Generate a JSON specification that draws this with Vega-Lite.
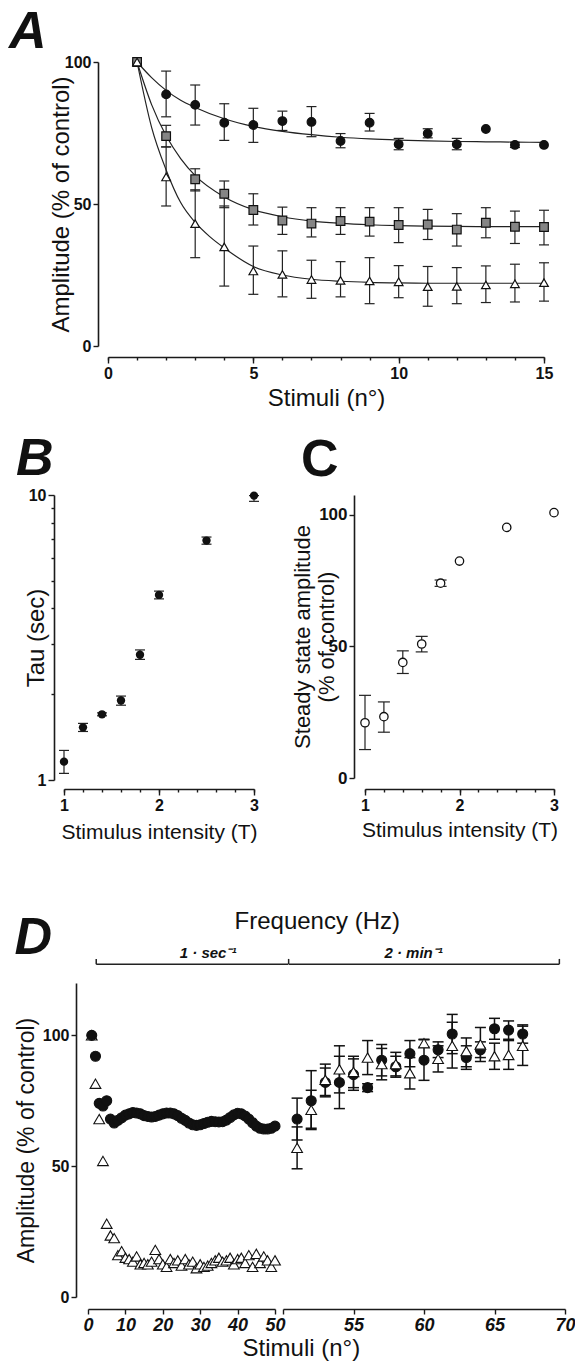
{
 "$schema": "https://vega.github.io/schema/vega-lite/v6.json",
 "padding": {"left": 8, "top": 6, "right": 0, "bottom": 0},
 "background": "white",
 "config": {
  "font": "Liberation Sans",
  "view": {"stroke": null},
  "axis": {"grid": false, "domainColor": "#1a1a1a", "domainWidth": 1.6, "tickColor": "#1a1a1a", "tickWidth": 1.4, "tickSize": 5, "labelPadding": 2, "labelFont": "Liberation Sans", "labelFontWeight": "bold", "labelColor": "#111", "titleFont": "Liberation Sans", "titleFontWeight": "normal", "titleColor": "#111", "labelOverlap": false, "labelFlush": false}
 },
 "datasets": {
  "A": [
   {"s":"circle","x":1,"y":100,"lo":null,"hi":null},
   {"s":"circle","x":2,"y":88.6,"lo":80.7,"hi":96.8},
   {"s":"circle","x":3,"y":84.9,"lo":77.8,"hi":91.9},
   {"s":"circle","x":4,"y":78.6,"lo":72.4,"hi":85.3},
   {"s":"circle","x":5,"y":77.8,"lo":71.7,"hi":83.7},
   {"s":"circle","x":6,"y":79.2,"lo":75.9,"hi":82.7},
   {"s":"circle","x":7,"y":78.9,"lo":73.7,"hi":84.3},
   {"s":"circle","x":8,"y":72.2,"lo":69.8,"hi":74.8},
   {"s":"circle","x":9,"y":78.6,"lo":75.7,"hi":81.9},
   {"s":"circle","x":10,"y":71.0,"lo":69.1,"hi":73.1},
   {"s":"circle","x":11,"y":74.8,"lo":73.3,"hi":76.5},
   {"s":"circle","x":12,"y":71.0,"lo":69.1,"hi":73.1},
   {"s":"circle","x":13,"y":76.4,"lo":null,"hi":null},
   {"s":"circle","x":14,"y":70.8,"lo":69.9,"hi":71.7},
   {"s":"circle","x":15,"y":70.8,"lo":null,"hi":null},
   {"s":"square","x":1,"y":100,"lo":null,"hi":null},
   {"s":"square","x":2,"y":73.9,"lo":70.1,"hi":77.7},
   {"s":"square","x":3,"y":58.7,"lo":54.6,"hi":62.4},
   {"s":"square","x":4,"y":53.6,"lo":48.7,"hi":58.1},
   {"s":"square","x":5,"y":47.9,"lo":42.6,"hi":53.6},
   {"s":"square","x":6,"y":44.2,"lo":39.3,"hi":48.9},
   {"s":"square","x":7,"y":43.1,"lo":38.4,"hi":48.7},
   {"s":"square","x":8,"y":44.0,"lo":39.3,"hi":48.7},
   {"s":"square","x":9,"y":43.8,"lo":38.7,"hi":48.7},
   {"s":"square","x":10,"y":42.6,"lo":36.4,"hi":48.7},
   {"s":"square","x":11,"y":42.8,"lo":37.5,"hi":48.1},
   {"s":"square","x":12,"y":41.0,"lo":35.2,"hi":46.6},
   {"s":"square","x":13,"y":43.4,"lo":38.1,"hi":48.7},
   {"s":"square","x":14,"y":42.0,"lo":36.1,"hi":47.5},
   {"s":"square","x":15,"y":41.9,"lo":35.6,"hi":47.8},
   {"s":"triangle","x":1,"y":100,"lo":null,"hi":null},
   {"s":"triangle","x":2,"y":59.5,"lo":49.3,"hi":70.1},
   {"s":"triangle","x":3,"y":43.1,"lo":31.1,"hi":55.0},
   {"s":"triangle","x":4,"y":34.9,"lo":21.1,"hi":49.3},
   {"s":"triangle","x":5,"y":26.4,"lo":18.2,"hi":35.2},
   {"s":"triangle","x":6,"y":25.2,"lo":17.3,"hi":33.5},
   {"s":"triangle","x":7,"y":23.4,"lo":16.8,"hi":30.2},
   {"s":"triangle","x":8,"y":23.1,"lo":17.3,"hi":29.7},
   {"s":"triangle","x":9,"y":22.9,"lo":14.9,"hi":31.1},
   {"s":"triangle","x":10,"y":22.6,"lo":17.0,"hi":28.3},
   {"s":"triangle","x":11,"y":20.9,"lo":14.0,"hi":28.0},
   {"s":"triangle","x":12,"y":21.0,"lo":14.9,"hi":27.6},
   {"s":"triangle","x":13,"y":21.5,"lo":15.3,"hi":28.2},
   {"s":"triangle","x":14,"y":21.9,"lo":15.5,"hi":28.8},
   {"s":"triangle","x":15,"y":22.3,"lo":15.8,"hi":29.3}
  ],
  "Afit": [
   {"s":"circle","x":1,"y":100},{"s":"circle","x":1.5,"y":94.5},{"s":"circle","x":2,"y":90},{"s":"circle","x":2.5,"y":86.5},{"s":"circle","x":3,"y":84},{"s":"circle","x":4,"y":80},{"s":"circle","x":5,"y":77.3},{"s":"circle","x":6,"y":75.6},{"s":"circle","x":7,"y":74.4},{"s":"circle","x":8,"y":73.5},{"s":"circle","x":9,"y":72.9},{"s":"circle","x":10,"y":72.5},{"s":"circle","x":11,"y":72.2},{"s":"circle","x":12,"y":72},{"s":"circle","x":13,"y":71.9},{"s":"circle","x":14,"y":71.8},{"s":"circle","x":15,"y":71.7},
   {"s":"square","x":1,"y":100},{"s":"square","x":1.5,"y":85},{"s":"square","x":2,"y":74},{"s":"square","x":2.5,"y":66},{"s":"square","x":3,"y":60},{"s":"square","x":4,"y":52.5},{"s":"square","x":5,"y":48},{"s":"square","x":6,"y":45.5},{"s":"square","x":7,"y":44},{"s":"square","x":8,"y":43.2},{"s":"square","x":9,"y":42.7},{"s":"square","x":10,"y":42.4},{"s":"square","x":11,"y":42.2},{"s":"square","x":12,"y":42.1},{"s":"square","x":13,"y":42.05},{"s":"square","x":14,"y":42},{"s":"square","x":15,"y":42},
   {"s":"triangle","x":1,"y":100},{"s":"triangle","x":1.5,"y":77},{"s":"triangle","x":2,"y":62},{"s":"triangle","x":2.5,"y":50.5},{"s":"triangle","x":3,"y":43.5},{"s":"triangle","x":3.5,"y":38.5},{"s":"triangle","x":4,"y":34.5},{"s":"triangle","x":5,"y":28},{"s":"triangle","x":6,"y":25},{"s":"triangle","x":7,"y":23.5},{"s":"triangle","x":8,"y":22.8},{"s":"triangle","x":9,"y":22.4},{"s":"triangle","x":10,"y":22.2},{"s":"triangle","x":11,"y":22.1},{"s":"triangle","x":12,"y":22.1},{"s":"triangle","x":13,"y":22.1},{"s":"triangle","x":14,"y":22.1},{"s":"triangle","x":15,"y":22.1}
  ],
  "B": [
   {"x":1,"y":1.16,"lo":1.055,"hi":1.27},
   {"x":1.2,"y":1.53,"lo":1.48,"hi":1.58},
   {"x":1.4,"y":1.70,"lo":1.68,"hi":1.72},
   {"x":1.6,"y":1.90,"lo":1.83,"hi":1.97},
   {"x":1.8,"y":2.75,"lo":2.65,"hi":2.86},
   {"x":2.0,"y":4.46,"lo":4.32,"hi":4.60},
   {"x":2.5,"y":6.92,"lo":6.72,"hi":7.12},
   {"x":3.0,"y":9.95,"lo":9.5,"hi":9.95}
  ],
  "C": [
   {"x":1,"y":21.0,"lo":10.8,"hi":31.4},
   {"x":1.2,"y":23.3,"lo":17.4,"hi":28.9},
   {"x":1.4,"y":43.9,"lo":39.7,"hi":48.3},
   {"x":1.6,"y":50.9,"lo":47.9,"hi":53.8},
   {"x":1.8,"y":74.0,"lo":72.8,"hi":75.2},
   {"x":2.0,"y":82.4,"lo":null,"hi":null},
   {"x":2.5,"y":95.2,"lo":null,"hi":null},
   {"x":3.0,"y":100.8,"lo":null,"hi":null}
  ],
  "Dl": [
   {"s":"triangle","x":1,"y":100},{"s":"triangle","x":2,"y":81.5},{"s":"triangle","x":3,"y":68},{"s":"triangle","x":4,"y":52},{"s":"triangle","x":5,"y":28},{"s":"triangle","x":6,"y":23.5},{"s":"triangle","x":7,"y":22.5},{"s":"triangle","x":8,"y":16},{"s":"triangle","x":9,"y":17.5},{"s":"triangle","x":10,"y":15},
   {"s":"triangle","x":11,"y":14.5},{"s":"triangle","x":12,"y":13.5},{"s":"triangle","x":13,"y":15.5},{"s":"triangle","x":14,"y":12.5},{"s":"triangle","x":15,"y":13},{"s":"triangle","x":16,"y":12.5},{"s":"triangle","x":17,"y":13.5},{"s":"triangle","x":18,"y":18},{"s":"triangle","x":19,"y":14.5},{"s":"triangle","x":20,"y":12.5},
   {"s":"triangle","x":21,"y":11.5},{"s":"triangle","x":22,"y":14.5},{"s":"triangle","x":23,"y":13},{"s":"triangle","x":24,"y":14},{"s":"triangle","x":25,"y":12},{"s":"triangle","x":26,"y":14.5},{"s":"triangle","x":27,"y":12.5},{"s":"triangle","x":28,"y":13.5},{"s":"triangle","x":29,"y":11},{"s":"triangle","x":30,"y":12.5},
   {"s":"triangle","x":31,"y":11.5},{"s":"triangle","x":32,"y":12},{"s":"triangle","x":33,"y":13},{"s":"triangle","x":34,"y":14},{"s":"triangle","x":35,"y":15},{"s":"triangle","x":36,"y":13.5},{"s":"triangle","x":37,"y":14},{"s":"triangle","x":38,"y":15},{"s":"triangle","x":39,"y":12.5},{"s":"triangle","x":40,"y":14.5},
   {"s":"triangle","x":41,"y":15},{"s":"triangle","x":42,"y":13},{"s":"triangle","x":43,"y":16},{"s":"triangle","x":44,"y":11.5},{"s":"triangle","x":45,"y":16.5},{"s":"triangle","x":46,"y":13},{"s":"triangle","x":47,"y":15.5},{"s":"triangle","x":48,"y":14},{"s":"triangle","x":49,"y":11.5},{"s":"triangle","x":50,"y":14},
   {"s":"circle","x":1,"y":100},{"s":"circle","x":2,"y":92},{"s":"circle","x":3,"y":74},{"s":"circle","x":4,"y":73},{"s":"circle","x":5,"y":75},{"s":"circle","x":6,"y":68},{"s":"circle","x":7,"y":66.5},{"s":"circle","x":8,"y":67.5},{"s":"circle","x":9,"y":68.5},{"s":"circle","x":10,"y":69.5},
   {"s":"circle","x":11,"y":70},{"s":"circle","x":12,"y":70.5},{"s":"circle","x":13,"y":70.3},{"s":"circle","x":14,"y":70},{"s":"circle","x":15,"y":69.3},{"s":"circle","x":16,"y":69},{"s":"circle","x":17,"y":68.8},{"s":"circle","x":18,"y":69},{"s":"circle","x":19,"y":69.5},{"s":"circle","x":20,"y":70},
   {"s":"circle","x":21,"y":70.3},{"s":"circle","x":22,"y":70.3},{"s":"circle","x":23,"y":70},{"s":"circle","x":24,"y":69.3},{"s":"circle","x":25,"y":68.3},{"s":"circle","x":26,"y":67.5},{"s":"circle","x":27,"y":66.5},{"s":"circle","x":28,"y":65.8},{"s":"circle","x":29,"y":65.6},{"s":"circle","x":30,"y":65.8},
   {"s":"circle","x":31,"y":66.3},{"s":"circle","x":32,"y":66.8},{"s":"circle","x":33,"y":67.1},{"s":"circle","x":34,"y":67},{"s":"circle","x":35,"y":66.9},{"s":"circle","x":36,"y":67},{"s":"circle","x":37,"y":67.6},{"s":"circle","x":38,"y":68.6},{"s":"circle","x":39,"y":69.6},{"s":"circle","x":40,"y":70.2},
   {"s":"circle","x":41,"y":70},{"s":"circle","x":42,"y":69.2},{"s":"circle","x":43,"y":68},{"s":"circle","x":44,"y":66.6},{"s":"circle","x":45,"y":65.3},{"s":"circle","x":46,"y":64.5},{"s":"circle","x":47,"y":64.2},{"s":"circle","x":48,"y":64.2},{"s":"circle","x":49,"y":64.5},{"s":"circle","x":50,"y":65.3}
  ],
  "Dr": [
   {"s":"circle","x":51,"y":68,"lo":60,"hi":76},
   {"s":"circle","x":52,"y":75,"lo":64,"hi":86.5},
   {"s":"circle","x":53,"y":82,"lo":76.5,"hi":87.5},
   {"s":"circle","x":54,"y":82,"lo":72,"hi":92},
   {"s":"circle","x":55,"y":85,"lo":79,"hi":91},
   {"s":"circle","x":56,"y":80,"lo":78.5,"hi":81.5},
   {"s":"circle","x":57,"y":90.5,"lo":84.5,"hi":96.5},
   {"s":"circle","x":58,"y":88,"lo":84,"hi":92},
   {"s":"circle","x":59,"y":93,"lo":88,"hi":98},
   {"s":"circle","x":60,"y":90.5,"lo":82.8,"hi":98.3},
   {"s":"circle","x":61,"y":94.5,"lo":91.5,"hi":97.5},
   {"s":"circle","x":62,"y":100.5,"lo":93,"hi":108},
   {"s":"circle","x":63,"y":91.5,"lo":87,"hi":96},
   {"s":"circle","x":64,"y":94.5,"lo":91.5,"hi":97.5},
   {"s":"circle","x":65,"y":102.5,"lo":98.5,"hi":106.5},
   {"s":"circle","x":66,"y":102,"lo":98.5,"hi":105.5},
   {"s":"circle","x":67,"y":100.5,"lo":97,"hi":104},
   {"s":"triangle","x":51,"y":57,"lo":49,"hi":65},
   {"s":"triangle","x":52,"y":71.5,"lo":64.5,"hi":79},
   {"s":"triangle","x":53,"y":83,"lo":77,"hi":89},
   {"s":"triangle","x":54,"y":87,"lo":78,"hi":96},
   {"s":"triangle","x":55,"y":86,"lo":80,"hi":92},
   {"s":"triangle","x":56,"y":91.5,"lo":85,"hi":98},
   {"s":"triangle","x":57,"y":89,"lo":83,"hi":95},
   {"s":"triangle","x":58,"y":89,"lo":84.5,"hi":93.5},
   {"s":"triangle","x":59,"y":85.5,"lo":79.5,"hi":91.5},
   {"s":"triangle","x":60,"y":97,"lo":95.5,"hi":98.5},
   {"s":"triangle","x":61,"y":91,"lo":86,"hi":96},
   {"s":"triangle","x":62,"y":96,"lo":87.5,"hi":105},
   {"s":"triangle","x":63,"y":94,"lo":88,"hi":99},
   {"s":"triangle","x":64,"y":96.5,"lo":90,"hi":103},
   {"s":"triangle","x":65,"y":92,"lo":87,"hi":97},
   {"s":"triangle","x":66,"y":92.5,"lo":87,"hi":98},
   {"s":"triangle","x":67,"y":96,"lo":88.5,"hi":103.5}
  ]
 },
 "concat": [
  {
   "concat": [
    {
     "hconcat": [
      {"width": 44, "height": 1, "data": {"values": []}, "mark": "point"},
      {
       "width": 436, "height": 284,
       "resolve": {"axis": {"x": "independent"}},
       "layer": [
        {"data": {"name": "Afit"},
         "mark": {"type": "line", "color": "#222", "strokeWidth": 1.2, "interpolate": "monotone"},
         "encoding": {
          "x": {"field": "x", "type": "quantitative", "scale": {"domain": [0, 15], "nice": false, "zero": false},
                "axis": {"orient": "bottom", "values": [0, 5, 10, 15], "format": "d", "tickSize": 6, "offset": 11, "title": "Stimuli (n°)", "titleFontSize": 24, "labelFontSize": 16, "titlePadding": 5}},
          "y": {"field": "y", "type": "quantitative", "scale": {"domain": [0, 100], "nice": false},
                "axis": {"values": [0, 50, 100], "offset": 10, "title": "Amplitude (% of control)", "titleFontSize": 24, "labelFontSize": 16, "titlePadding": -9}},
          "detail": {"field": "s"}
         }},
        {"data": {"name": "A"}, "transform": [{"filter": "datum.lo != null"}],
         "mark": {"type": "rule", "color": "#222", "strokeWidth": 1.2},
         "encoding": {
          "x": {"field": "x", "type": "quantitative", "axis": {"orient": "bottom", "values": [0,1,2,3,4,5,6,7,8,9,10,11,12,13,14,15], "labels": false, "domain": false, "tickSize": 3, "offset": 11, "title": null}},
          "y": {"field": "lo", "type": "quantitative"}, "y2": {"field": "hi"}}},
        {"data": {"name": "A"}, "transform": [{"filter": "datum.lo != null"}],
         "mark": {"type": "tick", "orient": "horizontal", "size": 10, "thickness": 1.2, "color": "#222", "opacity": 1},
         "encoding": {"x": {"field": "x", "type": "quantitative", "axis": null}, "y": {"field": "lo", "type": "quantitative"}}},
        {"data": {"name": "A"}, "transform": [{"filter": "datum.lo != null"}],
         "mark": {"type": "tick", "orient": "horizontal", "size": 10, "thickness": 1.2, "color": "#222", "opacity": 1},
         "encoding": {"x": {"field": "x", "type": "quantitative", "axis": null}, "y": {"field": "hi", "type": "quantitative"}}},
        {"data": {"name": "A"},
         "mark": {"type": "point", "size": 75, "strokeWidth": 1.2, "stroke": "#111", "opacity": 1, "fillOpacity": 1},
         "encoding": {
          "x": {"field": "x", "type": "quantitative", "axis": null},
          "y": {"field": "y", "type": "quantitative"},
          "shape": {"field": "s", "type": "nominal", "scale": {"domain": ["circle", "square", "triangle"], "range": ["circle", "square", "triangle-up"]}, "legend": null},
          "fill": {"field": "s", "type": "nominal", "scale": {"domain": ["circle", "square", "triangle"], "range": ["#111111", "#858585", "#ffffff"]}, "legend": null}
         }},
        {"data": {"values": [{}]},
         "mark": {"type": "text", "text": "A", "fontSize": 52, "fontWeight": "bold", "fontStyle": "italic", "align": "left", "baseline": "alphabetic", "color": "#111"},
         "encoding": {"x": {"datum": -3.41, "axis": null}, "y": {"datum": 104.9}}}
       ]
      }
     ],
     "spacing": 0,
     "bounds": "flush"
    },
    {
     "hconcat": [
      {
       "width": 190, "height": 285,
       "data": {"name": "B"},
       "resolve": {"axis": {"x": "independent"}},
       "layer": [
        {"mark": {"type": "rule", "color": "#222", "strokeWidth": 1.2},
         "encoding": {
          "x": {"field": "x", "type": "quantitative", "axis": {"orient": "bottom", "values": [1,1.2,1.4,1.6,1.8,2,2.2,2.4,2.6,2.8,3], "labels": false, "domain": false, "tickSize": 3, "offset": 9, "title": null}},
          "y": {"field": "lo", "type": "quantitative"}, "y2": {"field": "hi"}}},
        {"mark": {"type": "tick", "orient": "horizontal", "size": 10, "thickness": 1.2, "color": "#222", "opacity": 1},
         "encoding": {"x": {"field": "x", "type": "quantitative", "axis": {"orient": "bottom", "values": [2], "format": "d", "domain": false, "tickSize": 6, "offset": 9, "title": null, "labelFontSize": 16}}, "y": {"field": "lo", "type": "quantitative"}}},
        {"mark": {"type": "tick", "orient": "horizontal", "size": 10, "thickness": 1.2, "color": "#222", "opacity": 1},
         "encoding": {"x": {"field": "x", "type": "quantitative", "axis": null}, "y": {"field": "hi", "type": "quantitative"}}},
        {"mark": {"type": "point", "shape": "circle", "size": 70, "filled": true, "color": "#111", "opacity": 1},
         "encoding": {
          "x": {"field": "x", "type": "quantitative", "scale": {"domain": [1, 3], "nice": false, "zero": false},
                "axis": {"orient": "bottom", "values": [1, 3], "format": "d", "tickSize": 6, "offset": 9, "title": "Stimulus intensity (T)", "titleFontSize": 21, "labelFontSize": 16, "titlePadding": 8}},
          "y": {"field": "y", "type": "quantitative", "scale": {"type": "log", "domain": [1, 10], "nice": false},
                "axis": {"values": [1,2,3,4,5,6,7,8,9,10], "labelExpr": "datum.value === 1 || datum.value === 10 ? format(datum.value, 'd') : ''", "tickSize": {"condition": {"test": "datum.value === 1 || datum.value === 10", "value": 6}, "value": 3}, "offset": 10, "title": "Tau (sec)", "titleFontSize": 24, "labelFontSize": 16, "titlePadding": -20}}
         }},
        {"data": {"values": [{}]},
         "mark": {"type": "text", "text": "B", "fontSize": 52, "fontWeight": "bold", "fontStyle": "italic", "align": "left", "baseline": "alphabetic", "color": "#111"},
         "encoding": {"x": {"datum": 0.495, "axis": null}, "y": {"datum": 11.75}}}
       ]
      },
      {
       "width": 189, "height": 283,
       "data": {"name": "C"},
       "resolve": {"axis": {"x": "independent"}},
       "layer": [
        {"transform": [{"filter": "datum.lo != null"}],
         "mark": {"type": "rule", "color": "#222", "strokeWidth": 1.2},
         "encoding": {
          "x": {"field": "x", "type": "quantitative", "axis": {"orient": "bottom", "values": [1,1.2,1.4,1.6,1.8,2,2.2,2.4,2.6,2.8,3], "labels": false, "domain": false, "tickSize": 3, "offset": 11, "title": null}},
          "y": {"field": "lo", "type": "quantitative"}, "y2": {"field": "hi"}}},
        {"transform": [{"filter": "datum.lo != null"}],
         "mark": {"type": "tick", "orient": "horizontal", "size": 12, "thickness": 1.2, "color": "#222", "opacity": 1},
         "encoding": {"x": {"field": "x", "type": "quantitative", "axis": {"orient": "bottom", "values": [2], "format": "d", "domain": false, "tickSize": 6, "offset": 11, "title": null, "labelFontSize": 16}}, "y": {"field": "lo", "type": "quantitative"}}},
        {"transform": [{"filter": "datum.lo != null"}],
         "mark": {"type": "tick", "orient": "horizontal", "size": 12, "thickness": 1.2, "color": "#222", "opacity": 1},
         "encoding": {"x": {"field": "x", "type": "quantitative", "axis": null}, "y": {"field": "hi", "type": "quantitative"}}},
        {"mark": {"type": "point", "shape": "circle", "size": 70, "fill": "#ffffff", "stroke": "#111", "strokeWidth": 1.3, "opacity": 1, "fillOpacity": 1},
         "encoding": {
          "x": {"field": "x", "type": "quantitative", "scale": {"domain": [1, 3], "nice": false, "zero": false},
                "axis": {"orient": "bottom", "values": [1, 3], "format": "d", "tickSize": 6, "offset": 11, "title": "Stimulus intensity (T)", "titleFontSize": 21, "labelFontSize": 16, "titlePadding": 6}},
          "y": {"field": "y", "type": "quantitative", "scale": {"domain": [0, 107.5], "nice": false},
                "axis": {"values": [0, 50, 100], "offset": 11, "title": ["Steady state amplitude", "(% of control)"], "titleFontSize": 22, "labelFontSize": 17, "titlePadding": -20}}
         }},
        {"data": {"values": [{}]},
         "mark": {"type": "text", "text": "C", "fontSize": 52, "fontWeight": "bold", "align": "left", "baseline": "alphabetic", "color": "#111"},
         "encoding": {"x": {"datum": 0.324, "axis": null}, "y": {"datum": 114.9}}}
       ]
      }
     ],
     "spacing": 111,
     "bounds": "flush"
    }
   ],
   "columns": 1,
   "align": "none",
   "spacing": 23
  },
  {
   "hconcat": [
    {"width": 15.7, "height": 1, "data": {"values": []}, "mark": "point"},
    {
     "width": 187, "height": 314,
     "resolve": {"axis": {"x": "independent"}},
     "layer": [
      {"data": {"name": "Dl"},
       "mark": {"type": "point", "strokeWidth": 1.1, "stroke": "#111", "opacity": 1, "fillOpacity": 1},
       "encoding": {
        "x": {"field": "x", "type": "quantitative", "scale": {"domain": [0, 50], "nice": false, "zero": false},
              "axis": {"orient": "bottom", "values": [0, 20, 40], "format": "d", "offset": 12, "title": null, "labelFontSize": 18, "labelFontStyle": "italic"}},
        "y": {"field": "y", "type": "quantitative", "scale": {"domain": [0, 120], "nice": false},
              "axis": {"values": [0, 50, 100], "offset": 12, "title": "Amplitude (% of control)", "titleFontSize": 23, "labelFontSize": 16, "titlePadding": 4}},
        "shape": {"field": "s", "type": "nominal", "scale": {"domain": ["circle", "triangle"], "range": ["circle", "triangle-up"]}, "legend": null},
        "fill": {"field": "s", "type": "nominal", "scale": {"domain": ["circle", "triangle"], "range": ["#111111", "#ffffff"]}, "legend": null},
        "size": {"field": "s", "type": "nominal", "scale": {"domain": ["circle", "triangle"], "range": [100, 115]}, "legend": null}
       }},
      {"data": {"values": [{}]},
       "mark": {"type": "rule", "color": "#222", "strokeWidth": 1.5},
       "encoding": {"x": {"datum": 2.2, "axis": {"orient": "bottom", "values": [10, 30, 50], "format": "d", "domain": false, "offset": 12, "title": null, "labelFontSize": 18, "labelFontStyle": "italic"}}, "x2": {"datum": 53.5}, "y": {"datum": 127.2}}},
      {"data": {"values": [{}]},
       "mark": {"type": "rule", "color": "#222", "strokeWidth": 1.5},
       "encoding": {"x": {"datum": 2.2, "axis": null}, "y": {"datum": 127.2}, "y2": {"datum": 129.2}}},
      {"data": {"values": [{}]},
       "mark": {"type": "text", "text": "1 · sec⁻¹", "fontSize": 15, "fontWeight": "bold", "fontStyle": "italic", "align": "center", "baseline": "alphabetic", "color": "#111"},
       "encoding": {"x": {"datum": 32.1, "axis": null}, "y": {"datum": 129.6}}},
      {"data": {"values": [{}]},
       "mark": {"type": "text", "text": "D", "fontSize": 52, "fontWeight": "bold", "fontStyle": "italic", "align": "left", "baseline": "alphabetic", "color": "#111"},
       "encoding": {"x": {"datum": -19.65, "axis": null}, "y": {"datum": 130.9}}}
     ]
    },
    {
     "width": 282, "height": 314,
     "layer": [
      {"data": {"name": "Dr"},
       "mark": {"type": "rule", "color": "#111", "strokeWidth": 1.5},
       "encoding": {
        "x": {"field": "x", "type": "quantitative", "scale": {"domain": [50, 70], "nice": false, "zero": false},
              "axis": {"values": [50, 55, 60, 65, 70], "labelExpr": "datum.value === 50 ? '' : format(datum.value, 'd')", "offset": 12, "title": null, "labelFontSize": 18, "labelFontStyle": "italic"}},
        "y": {"field": "lo", "type": "quantitative", "scale": {"domain": [0, 120], "nice": false}, "axis": null},
        "y2": {"field": "hi"}
       }},
      {"data": {"name": "Dr"},
       "mark": {"type": "tick", "orient": "horizontal", "size": 11, "thickness": 1.5, "color": "#111", "opacity": 1},
       "encoding": {"x": {"field": "x", "type": "quantitative"}, "y": {"field": "lo", "type": "quantitative"}}},
      {"data": {"name": "Dr"},
       "mark": {"type": "tick", "orient": "horizontal", "size": 11, "thickness": 1.5, "color": "#111", "opacity": 1},
       "encoding": {"x": {"field": "x", "type": "quantitative"}, "y": {"field": "hi", "type": "quantitative"}}},
      {"data": {"name": "Dr"},
       "mark": {"type": "point", "strokeWidth": 1.1, "stroke": "#111", "opacity": 1, "fillOpacity": 1},
       "encoding": {
        "x": {"field": "x", "type": "quantitative"},
        "y": {"field": "y", "type": "quantitative"},
        "shape": {"field": "s", "type": "nominal", "scale": {"domain": ["circle", "triangle"], "range": ["circle", "triangle-up"]}, "legend": null},
        "fill": {"field": "s", "type": "nominal", "scale": {"domain": ["circle", "triangle"], "range": ["#111111", "#ffffff"]}, "legend": null},
        "size": {"field": "s", "type": "nominal", "scale": {"domain": ["circle", "triangle"], "range": [100, 115]}, "legend": null}
       }},
      {"data": {"values": [{}]},
       "mark": {"type": "rule", "color": "#222", "strokeWidth": 1.5},
       "encoding": {"x": {"datum": 50.4}, "x2": {"datum": 69.6}, "y": {"datum": 127.2}}},
      {"data": {"values": [{"p": 50.4}, {"p": 69.6}]},
       "mark": {"type": "rule", "color": "#222", "strokeWidth": 1.5},
       "encoding": {"x": {"field": "p", "type": "quantitative"}, "y": {"datum": 127.2}, "y2": {"datum": 129.2}}},
      {"data": {"values": [{}]},
       "mark": {"type": "text", "text": "2 · min⁻¹", "fontSize": 15, "fontWeight": "bold", "fontStyle": "italic", "align": "center", "baseline": "alphabetic", "color": "#111"},
       "encoding": {"x": {"datum": 59.26}, "y": {"datum": 129.6}}},
      {"data": {"values": [{}]},
       "mark": {"type": "text", "text": "Frequency (Hz)", "fontSize": 24, "align": "center", "baseline": "alphabetic", "color": "#111"},
       "encoding": {"x": {"datum": 52.43}, "y": {"datum": 140.5}}},
      {"data": {"values": [{}]},
       "mark": {"type": "text", "text": "Stimuli (n°)", "fontSize": 24, "align": "center", "baseline": "alphabetic", "color": "#111"},
       "encoding": {"x": {"datum": 51.3}, "y": {"datum": -22.6}}}
     ]
    }
   ],
   "spacing": 8,
   "bounds": "flush"
  }
 ],
 "columns": 1,
 "align": "none",
 "spacing": 68
}
